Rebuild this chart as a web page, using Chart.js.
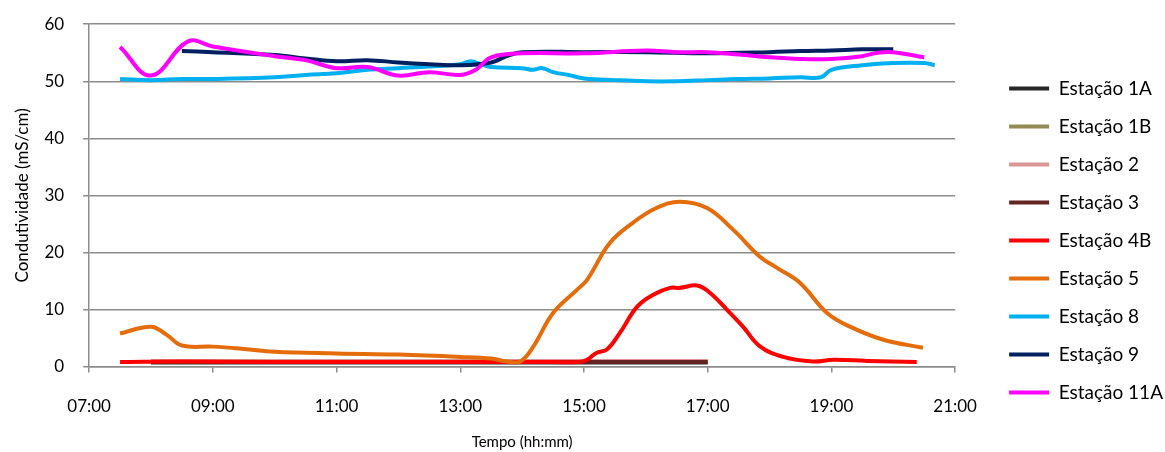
<!DOCTYPE html>
<html>
<head>
<meta charset="utf-8">
<script src="https://cdn.jsdelivr.net/npm/chart.js@4/dist/chart.umd.min.js"></script>
<style>
  html, body { margin: 0; padding: 0; background: #fff; }
  #wrap { width: 1165px; height: 452px; }
</style>
</head>
<body>
<div id="wrap"><canvas id="chart" width="1165" height="452"></canvas></div>
<script>
// horas decimais -> valores de condutividade (mS/cm)
const est1A = [[8.0, 0.7], [10.0, 0.7], [12.0, 0.7], [14.0, 0.7], [17.0, 0.7]];
const est1B = [[8.0, 0.9], [10.0, 0.9], [12.0, 0.9], [14.0, 0.9], [17.0, 0.9]];
const est2 = [[8.0, 1.0], [10.0, 1.0], [12.0, 1.0], [14.0, 1.0], [17.0, 1.0]];
const est3 = [[8.0, 0.8], [10.0, 0.8], [12.0, 0.8], [14.0, 0.8], [17.0, 0.8]];

const est4B = [
  [7.5, 0.8], [8.5, 0.9], [10.0, 0.8], [11.5, 0.8], [13.0, 0.8], [14.5, 0.8], [14.9, 0.8],
  [15.05, 1.2], [15.2, 2.4], [15.37, 3.0], [15.58, 5.9], [15.86, 10.5], [16.12, 12.6],
  [16.39, 13.8], [16.55, 13.8], [16.83, 14.2], [17.04, 12.9], [17.36, 9.4], [17.57, 7.0],
  [17.85, 3.5], [18.22, 1.7], [18.7, 0.9], [19.03, 1.2], [19.58, 1.0], [20.38, 0.8]
];

const est5 = [
  [7.5, 5.8], [8.0, 7.0], [8.25, 5.6], [8.5, 3.7], [9.0, 3.5], [9.5, 3.1], [10.0, 2.6],
  [11.0, 2.3], [12.0, 2.1], [13.0, 1.7], [13.5, 1.4], [13.75, 0.9], [13.97, 0.9],
  [14.18, 3.5], [14.5, 9.4], [14.89, 13.5], [15.05, 15.2], [15.42, 21.7], [15.79, 25.2],
  [16.17, 27.8], [16.55, 28.9], [16.99, 27.8], [17.41, 24.0], [17.85, 19.2], [18.12, 17.3],
  [18.49, 14.7], [18.93, 9.4], [19.3, 7.0], [19.84, 4.7], [20.48, 3.3]
];

const est8 = [
  [7.5, 50.4], [8.0, 50.2], [8.5, 50.4], [9.0, 50.4], [10.0, 50.7], [10.5, 51.1], [11.0, 51.4],
  [11.5, 52.0], [12.0, 52.3], [12.5, 52.6], [13.0, 53.0], [13.17, 53.5], [13.33, 53.0],
  [13.5, 52.5], [14.0, 52.3], [14.17, 52.0], [14.33, 52.3], [14.5, 51.6], [14.75, 51.1],
  [15.0, 50.5], [15.5, 50.2], [16.0, 50.0], [16.5, 50.0], [17.0, 50.2], [17.5, 50.4],
  [18.0, 50.5], [18.5, 50.7], [18.83, 50.7], [19.0, 52.0], [19.5, 52.8], [20.0, 53.2],
  [20.5, 53.2], [20.67, 52.8]
];

const est9 = [
  [8.5, 55.3], [9.0, 55.1], [10.0, 54.6], [10.5, 54.0], [11.0, 53.5], [11.5, 53.7],
  [12.0, 53.3], [12.5, 53.0], [13.0, 52.8], [13.5, 53.3], [13.75, 54.4], [14.0, 55.1],
  [15.0, 55.1], [16.0, 55.1], [17.0, 54.9], [18.0, 55.1], [18.5, 55.3], [19.0, 55.4],
  [19.5, 55.6], [20.0, 55.6]
];

const est11A = [
  [7.5, 56.0], [8.0, 51.0], [8.6, 57.0], [9.0, 56.1], [10.0, 54.4], [10.5, 53.7],
  [11.0, 52.3], [11.5, 52.5], [12.0, 51.0], [12.5, 51.6], [13.0, 51.1], [13.25, 52.0],
  [13.5, 54.2], [14.0, 54.9], [15.0, 54.9], [16.0, 55.4], [16.5, 55.1], [17.0, 55.1],
  [17.5, 54.7], [18.0, 54.2], [18.5, 53.9], [19.0, 53.9], [19.5, 54.4], [19.75, 55.0],
  [20.0, 55.1], [20.5, 54.2]
];

const seriesNames = ["Estação 1A", "Estação 1B", "Estação 2", "Estação 3", "Estação 4B",
  "Estação 5", "Estação 8", "Estação 9", "Estação 11A"];
const seriesData = [est1A, est1B, est2, est3, est4B, est5, est8, est9, est11A];
const seriesColors = ["#262626", "#948A54", "#D99694", "#632523", "#FF0000",
  "#E46C0A", "#00B0F0", "#002060", "#FF00FF"];

const fontFam = "Lato, 'Open Sans', sans-serif";
const gridColor = "#8c8c8c";

const datasets = seriesNames.map((name, i) => ({
  label: name,
  data: seriesData[i].map(p => ({ x: p[0], y: p[1] })),
  borderColor: seriesColors[i],
  backgroundColor: seriesColors[i],
  borderWidth: 4,
  pointRadius: 0,
  tension: 0.4,
  fill: false,
  order: seriesNames.length - i  // como no Excel: a última série fica por cima
}));

function fmtHora(v) {
  const h = Math.floor(v);
  const m = Math.round((v - h) * 60);
  return String(h).padStart(2, "0") + ":" + String(m).padStart(2, "0");
}

// afasta a legenda do gráfico (como no Excel)
const moveLegend = {
  id: "moveLegend",
  afterLayout(chart) {
    const lg = chart.legend;
    lg.left += 35;
    lg.right += 35;
    lg.top += 15;
    lg.bottom += 15;
  }
};

new Chart(document.getElementById("chart"), {
  type: "line",
  data: { datasets: datasets },
  plugins: [moveLegend],
  options: {
    responsive: false,
    animation: false,
    layout: { padding: { top: 2, right: 27, left: 0, bottom: 3 } },
    plugins: {
      tooltip: { enabled: false },
      legend: {
        position: "right",
        align: "center",
        labels: {
          usePointStyle: true,
          pointStyle: "line",
          pointStyleWidth: 40,
          padding: 19,
          color: "#000",
          font: { family: fontFam, size: 19 },
          sort: (a, b) => a.datasetIndex - b.datasetIndex
        }
      }
    },
    scales: {
      x: {
        type: "linear",
        min: 7,
        max: 21,
        border: { color: gridColor, width: 1.5 },
        grid: { drawOnChartArea: false, color: gridColor, tickLength: 6, lineWidth: 1.5 },
        ticks: {
          stepSize: 2,
          padding: 24,
          color: "#000",
          font: { family: fontFam, size: 17 },
          callback: v => fmtHora(v)
        },
        title: {
          display: true,
          text: "Tempo (hh:mm)",
          color: "#000",
          font: { family: fontFam, size: 15 },
          padding: { top: -8, bottom: -2 }
        }
      },
      y: {
        min: 0,
        max: 60,
        border: { color: gridColor, width: 1.5 },
        grid: { color: gridColor, tickLength: 6, lineWidth: 1.5 },
        ticks: {
          stepSize: 10,
          padding: 19,
          color: "#000",
          font: { family: fontFam, size: 17 }
        },
        title: {
          display: true,
          text: "Condutividade (mS/cm)",
          color: "#000",
          font: { family: fontFam, size: 17 },
          padding: { top: 12, bottom: -7 }
        },
        afterFit: s => { s.paddingTop -= 5; }
      }
    }
  }
});
</script>
</body>
</html>
